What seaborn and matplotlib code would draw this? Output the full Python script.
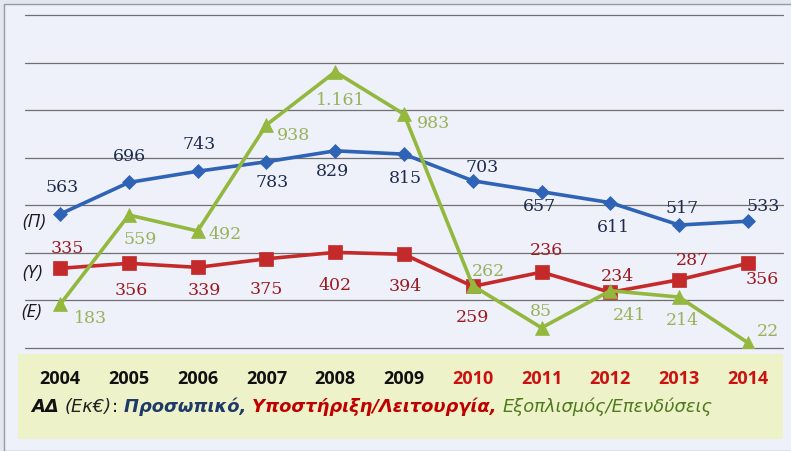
import seaborn as sns
import numpy as np
import matplotlib.pyplot as plt
from matplotlib.patches import Rectangle
from matplotlib.offsetbox import TextArea, HPacker, AnchoredOffsetbox

# ===============================
# DATOS
# ===============================

years = [2004, 2005, 2006, 2007, 2008, 2009, 2010, 2011, 2012, 2013, 2014]
year_colors = ['#111111'] * 6 + ['#cc1111'] * 5

prosopiko = [563, 696, 743, 783, 829, 815, 703, 657, 611, 517, 533]
prosopiko_lab = ['563', '696', '743', '783', '829', '815', '703', '657', '611', '517', '533']

# 2011: el punto está dibujado más alto (~319) que su etiqueta (236)
ypostirixi = [335, 356, 339, 375, 402, 394, 259, 319, 234, 287, 356]
ypostirixi_lab = ['335', '356', '339', '375', '402', '394', '259', '236', '234', '287', '356']

exoplismos = [183, 559, 492, 938, 1161, 983, 262, 85, 241, 214, 22]
exoplismos_lab = ['183', '559', '492', '938', '1.161', '983', '262', '85', '241', '214', '22']

# desplazamiento de las etiquetas (pixeles)
off_p = [(2, 28), (1, 27), (1, 28), (6, -20), (-3, -20), (1, -23), (9, 14), (-2, -14), (3, -24), (3, 18), (15, 16)]
off_y = [(7, 21), (2, -26), (7, -22), (0, -30), (0, -32), (1, -31), (0, -30), (5, 23), (7, 17), (13, 20), (14, -15)]
off_e = [(30, -13), (11, -23), (27, -3), (27, -10), (5, -28), (29, -8), (16, 15), (-1, 17), (19, -24), (3, -22), (20, 12)]

# ===============================
# FIGURA
# ===============================

sns.set_style("white")
W, H = 791, 452
fig = plt.figure(figsize=(W / 100, H / 100), dpi=100, facecolor='#e2e8f1')

# panel de fondo
fig.patches.append(Rectangle((4 / W, 0), 1, 1 - 5 / H, transform=fig.transFigure,
                             facecolor='#eef0fa', edgecolor='#9a9a9a', lw=1, zorder=-3))
# caja amarilla inferior
fig.patches.append(Rectangle((18 / W, 1 - 440 / H), 765 / W, 85 / H, transform=fig.transFigure,
                             facecolor='#edf2c8', edgecolor='none', zorder=-2))

ax = fig.add_axes([25 / W, 1 - 349 / H, 758 / W, 333 / H])
ax.set_facecolor('none')

series = [
    (prosopiko, prosopiko_lab, off_p, '#2e63b5', 'D', 7, '#1e2d4d'),
    (ypostirixi, ypostirixi_lab, off_y, '#c42a2a', 's', 10.5, '#9c1a1f'),
    (exoplismos, exoplismos_lab, off_e, '#93b83d', '^', 10, '#98b35a'),
]

for vals, labs, offs, col, mk, ms, tcol in series:
    sns.lineplot(x=years, y=vals, ax=ax, color=col, linewidth=2.6, marker=mk,
                 markersize=ms, markeredgecolor=col, markeredgewidth=0.5)
    for x, v, t, (dx, dy) in zip(years, vals, labs, offs):
        ax.annotate(t, (x, v), xytext=(dx, dy), textcoords='offset pixels',
                    ha='center', va='center', fontsize=12.5, color=tcol,
                    family='DejaVu Serif')

ax.set_xlim(2003.49, 2014.51)
ax.set_ylim(0, 1400)
ax.set_yticks(np.arange(0, 1401, 200))
ax.set_yticklabels([])
ax.grid(axis='y', color='#707070', linewidth=0.9)
for gl in ax.get_ygridlines():
    gl.set_clip_on(False)
ax.tick_params(axis='y', length=0)
for s in ax.spines.values():
    s.set_visible(False)
ax.set_xlabel('')
ax.set_ylabel('')

ax.set_xticks(years)
ax.set_xticklabels([str(y) for y in years], fontsize=13, fontweight='bold', family='Open Sans')
ax.tick_params(axis='x', length=0, pad=15)
for lbl, c in zip(ax.get_xticklabels(), year_colors):
    lbl.set_color(c)

# etiquetas de las series a la izquierda
for txt, (px, py) in zip(['(Π)', '(Υ)', '(Ε)'], [(34, 222), (32, 273), (31, 312)]):
    fig.text(px / W, 1 - py / H, txt, ha='center', va='center', fontsize=13.5,
             style='italic', color='#1a1a1a', family='Open Sans')

# leyenda de texto
partes = [
    ('ΑΔ ', dict(color='#111111', fontweight='bold', style='italic')),
    ('(Εκ€)', dict(color='#222222', style='italic')),
    (': ', dict(color='#111111')),
    ('Προσωπικό, ', dict(color='#1f3a68', fontweight='bold', style='italic')),
    ('Υποστήριξη/Λειτουργία, ', dict(color='#c00000', fontweight='bold', style='italic')),
    ('Εξοπλισμός/Επενδύσεις', dict(color='#4e7a1e', style='italic')),
]
cajas = []
for t, props in partes:
    props = dict(props, fontsize=12.9, family='DejaVu Sans')
    cajas.append(TextArea(t, textprops=props))
fila = HPacker(children=cajas, align='baseline', pad=0, sep=0)
fig.add_artist(AnchoredOffsetbox(loc='center left', child=fila, pad=0, borderpad=0, frameon=False,
                                 bbox_to_anchor=(31 / W, 1 - 407 / H),
                                 bbox_transform=fig.transFigure))

plt.savefig('out.png', dpi=100, facecolor=fig.get_facecolor())
